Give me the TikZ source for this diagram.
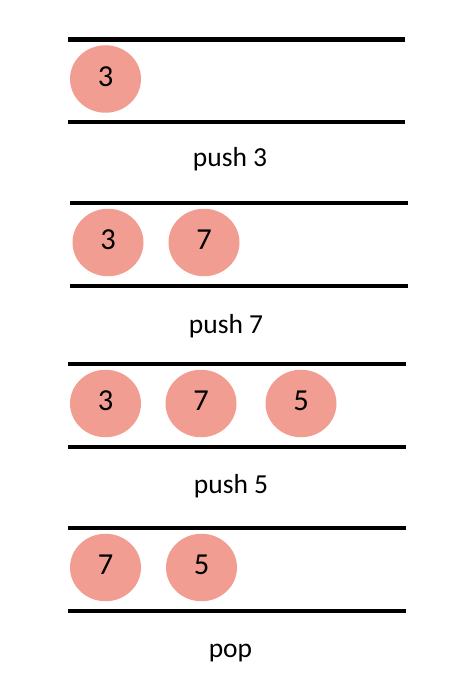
\documentclass[tikz,border=0pt]{standalone}
\usepackage{fontspec}
\setmainfont{Carlito}
\usetikzlibrary{shapes.geometric}
\definecolor{ball}{RGB}{242,157,146}
\tikzset{
  ballnode/.style={ellipse, fill=ball, draw=none, minimum width=71pt, minimum height=67.5pt, inner sep=0pt, text depth=5.5pt, font=\fontsize{30.5}{33}\selectfont},
  rail/.style={line width=4.3pt},
  oplabel/.style={anchor=base, inner sep=0pt, font=\fontsize{27.5}{30}\selectfont}
}
\begin{document}
\begin{tikzpicture}[x=1pt,y=-1pt]
\useasboundingbox (0,0) rectangle (464,692);
% row 1
\coordinate (t1l) at (68,39.5); \coordinate (t1r) at (405,39.5);
\coordinate (b1l) at (68,122); \coordinate (b1r) at (405,122);
\draw[rail] (t1l) -- (t1r); \draw[rail] (b1l) -- (b1r);
\node[ballnode] (r1a) at (105.5,79) {3};
\node[oplabel] (l1) at (230,166.5) {push 3};
% row 2
\coordinate (t2l) at (70,203.3); \coordinate (t2r) at (408,203.3);
\coordinate (b2l) at (70,286); \coordinate (b2r) at (408,286);
\draw[rail] (t2l) -- (t2r); \draw[rail] (b2l) -- (b2r);
\node[ballnode] (r2a) at (108,242.5) {3};
\node[ballnode] (r2b) at (204,242.5) {7};
\node[oplabel] (l2) at (226,333) {push 7};
% row 3
\coordinate (t3l) at (68,364); \coordinate (t3r) at (405.5,364);
\coordinate (b3l) at (68,447); \coordinate (b3r) at (405.5,447);
\draw[rail] (t3l) -- (t3r); \draw[rail] (b3l) -- (b3r);
\node[ballnode] (r3a) at (105.5,403.5) {3};
\node[ballnode] (r3b) at (201,403.5) {7};
\node[ballnode] (r3c) at (301,403.5) {5};
\node[oplabel] (l3) at (231,493) {push 5};
% row 4
\coordinate (t4l) at (68,528); \coordinate (t4r) at (405.5,528);
\coordinate (b4l) at (68,611); \coordinate (b4r) at (405.5,611);
\draw[rail] (t4l) -- (t4r); \draw[rail] (b4l) -- (b4r);
\node[ballnode] (r4a) at (105.5,567.5) {7};
\node[ballnode] (r4b) at (201.5,567.5) {5};
\node[oplabel] (l4) at (230.5,657.3) {pop};
\end{tikzpicture}
\end{document}
